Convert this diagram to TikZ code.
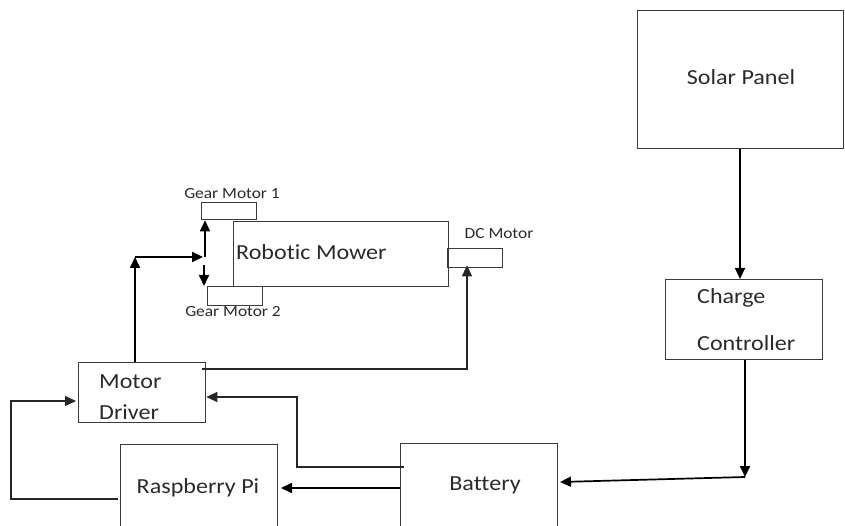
\documentclass[tikz,border=0pt]{standalone}
\usepackage{fontspec}
\setmainfont[FakeStretch=1.12,Ligatures=NoCommon]{Carlito}
\usetikzlibrary{arrows.meta}
\definecolor{edge}{HTML}{3A3A3A}
\definecolor{ink}{HTML}{2A2A2A}
\tikzset{
  box/.style={draw=edge, line width=1.3pt, inner sep=0pt, anchor=north west},
  big/.style={font=\fontsize{21.5}{24}\selectfont, text=ink, inner sep=0pt},
  small/.style={font=\fontsize{15.5}{18}\selectfont, text=ink, inner sep=0pt},
  arr/.style={draw=black, line width=1.7pt, -{Triangle[length=11pt,width=10pt]}},
  thinarr/.style={draw=black!85, line width=1.2pt, -{Triangle[length=11pt,width=10pt]}},
}
\begin{document}
\begin{tikzpicture}[x=1pt,y=-1pt]
\useasboundingbox (0,0) rectangle (845,526);
\clip (0,0) rectangle (845,526);
% boxes
\node[box, minimum width=206pt, minimum height=138pt] (solar) at (637,10) {};
\node[box, minimum width=157pt, minimum height=80pt] (cc) at (665,279) {};
\node[box, minimum width=157pt, minimum height=120pt] (bat) at (400,443) {};
\node[box, minimum width=157pt, minimum height=120pt] (rpi) at (120,444) {};
\node[box, minimum width=127pt, minimum height=60pt] (md) at (78,362) {};
\node[box, minimum width=215pt, minimum height=65pt] (mower) at (233,221) {};
\node[box, minimum width=55pt, minimum height=19pt] (dc) at (447,248) {};
\node[box, minimum width=55pt, minimum height=17pt] (gm1) at (201,202) {};
\node[box, minimum width=55pt, minimum height=19pt] (gm2) at (207,286) {};
% texts
\node[big] (tsolar) at (741,77) {Solar Panel};
\node[big, anchor=west] (tcc1) at (697,298) {Charge};
\node[big, anchor=west] (tcc2) at (697,343) {Controller};
\node[big] (tbat) at (485,485) {Battery};
\node[big] (trpi) at (198,488) {Raspberry Pi};
\node[big, anchor=west] (tmd1) at (99,382) {Motor};
\node[big, anchor=west] (tmd2) at (99,412) {Driver};
\node[big, anchor=west] (tmow) at (236,252) {Robotic Mower};
\node[small] (tdc) at (499,234) {DC Motor};
\node[small] (tgm1) at (232,194) {Gear Motor 1};
\node[small] (tgm2) at (233,312) {Gear Motor 2};
% coordinates
\coordinate (c1) at (745,477);
\coordinate (c2) at (560,482);
\coordinate (p1) at (400,488);
\coordinate (p2) at (281,488);
\coordinate (b1) at (404,467);
\coordinate (b2) at (297,467);
\coordinate (b3) at (297,397);
\coordinate (r1) at (118,499);
\coordinate (r2) at (11,499);
\coordinate (r3) at (11,401);
\coordinate (m1) at (202,369);
\coordinate (m2) at (467,369);
\coordinate (u1) at (135,362);
\coordinate (u2) at (135,257);
\coordinate (u3) at (203,257);
\coordinate (g1) at (205,257);
\coordinate (g2) at (204,265);
% connectors
\draw[arr] (solar.south -| 740,0) -- (cc.north -| 740,0);
\draw[arr] (cc.south -| c1) -- (c1);
\draw[arr] (c1) -- (c2);
\draw[arr] (p1) -- (p2);
\draw[thinarr] (b1) -- (b2) -- (b3) -- (md.east |- b3);
\draw[thinarr] (r1) -- (r2) -- (r3) -- ([xshift=-2pt]md.west |- r3);
\draw[thinarr] (m1) -- (m2) -- ([yshift=3pt]dc.south -| m2);
\draw[arr] (u1) -- (u2);
\draw[arr] (u2) -- (u3);
\draw[arr] (g1) -- (gm1.south -| g1);
\draw[arr] (g2) -- (gm2.north -| g2);
\end{tikzpicture}
\end{document}
